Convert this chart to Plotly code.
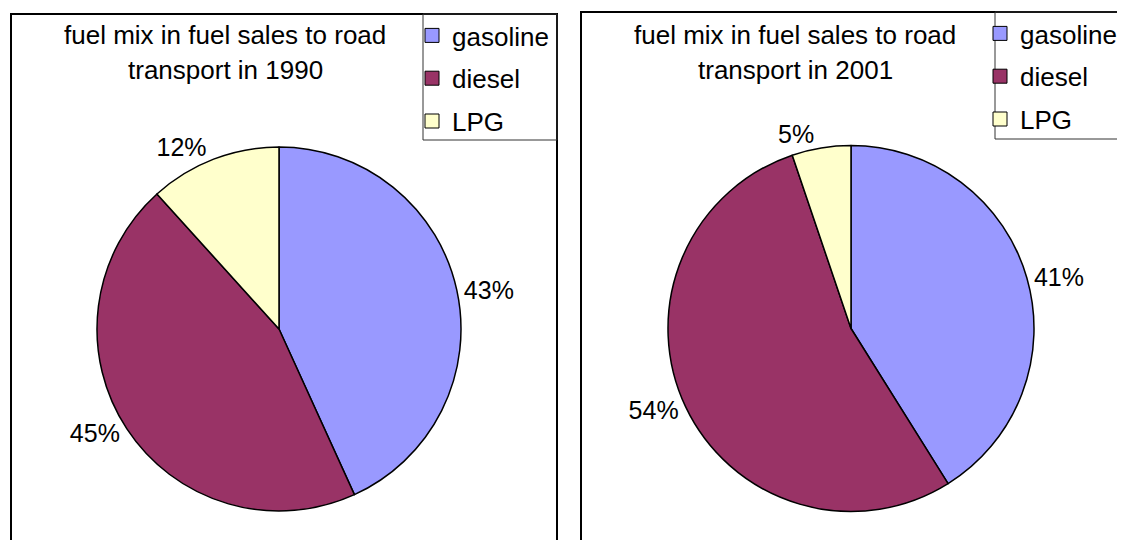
import plotly.graph_objects as go

# fuel mix shares (%)
fuels = ["gasoline", "diesel", "LPG"]
share_1990 = [43.2, 45.1, 11.7]
share_2001 = [41.1, 53.7, 5.2]
years = ["1990", "2001"]
fuel_colors = ["#9999FF", "#993366", "#FFFFCC"]

W, H = 1125, 540
font = "Liberation Sans, Arial, sans-serif"


def fx(px):
    return px / W


def fy(py):
    return 1 - py / H


fig = go.Figure()

# pies: (values, domain in pixels x0, x1, y0, y1)
pies = [
    (share_1990, (89, 453, 139, 503)),
    (share_2001, (660, 1026, 137, 504)),
]
for values, (x0, x1, y0, y1) in pies:
    fig.add_trace(go.Pie(
        labels=fuels,
        values=values,
        sort=False,
        direction="clockwise",
        rotation=0,
        marker=dict(colors=fuel_colors, line=dict(color="black", width=1.5)),
        textposition="outside",
        texttemplate="%{percent:.0%}",
        textfont=dict(family=font, size=25, color="black"),
        showlegend=False,
        hoverinfo="label+percent",
        domain=dict(x=[fx(x0), fx(x1)], y=[fy(y1), fy(y0)]),
    ))

# legend entries, one group per fuel so the spacing matches
for leg in ["legend", "legend2"]:
    for name, col in zip(fuels, fuel_colors):
        fig.add_trace(go.Scatter(
            x=[None], y=[None], mode="markers", name=name,
            marker=dict(symbol="square", size=14, color=col,
                        line=dict(color="black", width=1)),
            legend=leg, legendgroup=leg + name, showlegend=True,
        ))

legend_style = dict(
    font=dict(family=font, size=26, color="black"),
    bgcolor="rgba(0,0,0,0)", borderwidth=0,
    tracegroupgap=6, itemsizing="trace",
    xanchor="left", yanchor="top",
)

# panel frames and legend boxes (paper coordinates)
box = dict(type="rect", xref="paper", yref="paper")
shapes = [
    dict(box, x0=fx(3), x1=fx(549), y0=fy(560), y1=fy(6),
         line=dict(color="black", width=2)),
    dict(box, x0=fx(573), x1=fx(1140), y0=fy(560), y1=fy(4),
         line=dict(color="black", width=2)),
    dict(box, x0=fx(415), x1=fx(549), y0=fy(132), y1=fy(6),
         line=dict(color="#333333", width=1)),
    dict(box, x0=fx(987), x1=fx(1140), y0=fy(131), y1=fy(4),
         line=dict(color="#333333", width=1)),
]

# two-line titles
annotations = []
for cx, year in zip([217, 787], years):
    for ly, txt in [(27, "fuel mix in fuel sales to road"),
                    (62, "transport in " + year)]:
        annotations.append(dict(
            x=fx(cx), y=fy(ly), xref="paper", yref="paper",
            text=txt, showarrow=False, xanchor="center", yanchor="middle",
            font=dict(family=font, size=26, color="black"),
        ))

fig.update_layout(
    width=W, height=H,
    margin=dict(l=0, r=0, t=0, b=0),
    paper_bgcolor="white", plot_bgcolor="white",
    xaxis=dict(visible=False), yaxis=dict(visible=False),
    legend=dict(x=fx(404), y=fy(4), **legend_style),
    legend2=dict(x=fx(972), y=fy(2), **legend_style),
    shapes=shapes,
    annotations=annotations,
)

fig.write_html("out.html")
